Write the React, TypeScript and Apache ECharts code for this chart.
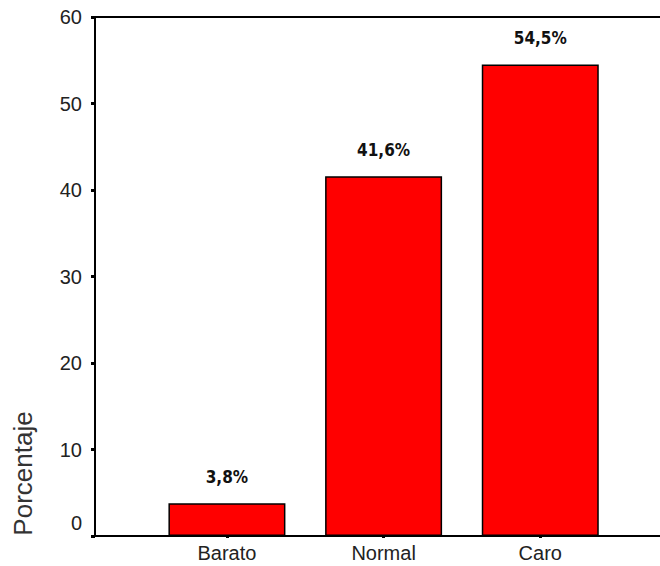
import React, { useEffect, useRef } from "react";
import * as echarts from "echarts";

const categories = ["Barato", "Normal", "Caro"];
const percentages = [3.8, 41.6, 54.5];
const yMin = 0;
const yMax = 60;
const yInterval = 10;
const yAxisTitle = "Porcentaje";

export default function App() {
  const ref = useRef<HTMLDivElement>(null);
  useEffect(() => {
    if (!ref.current) return;
    const chart = echarts.init(ref.current, null, { renderer: "svg" });
    const lineStyle = { color: "#000", width: 2 };
    chart.setOption({
      animation: false,
      backgroundColor: "#fff",
      grid: [
        { left: 95, right: 0, top: 17, bottom: 30 },
        { left: 148.6, width: 470, top: 17, bottom: 30 },
      ],
      xAxis: [
        {
          gridIndex: 0,
          type: "value",
          position: "bottom",
          min: 0,
          max: 1,
          axisLine: { show: true, lineStyle },
          axisTick: { show: false },
          axisLabel: { show: false },
          splitLine: { show: false },
        },
        {
          gridIndex: 0,
          type: "value",
          position: "top",
          min: 0,
          max: 1,
          axisLine: { show: true, lineStyle },
          axisTick: { show: false },
          axisLabel: { show: false },
          splitLine: { show: false },
        },
        {
          gridIndex: 1,
          type: "category",
          data: categories,
          position: "bottom",
          offset: 4,
          axisLine: { show: false },
          axisTick: {
            show: true,
            alignWithLabel: true,
            length: 2,
            lineStyle: { color: "#000", width: 3 },
          },
          axisLabel: {
            margin: 3,
            color: "#222",
            fontFamily: "Liberation Sans, Arial, sans-serif",
            fontSize: 20,
          },
          splitLine: { show: false },
        },
      ],
      yAxis: [
        {
          gridIndex: 0,
          type: "value",
          min: yMin,
          max: yMax,
          interval: yInterval,
          axisLine: { show: true, lineStyle },
          axisTick: {
            show: true,
            length: 4,
            lineStyle: { color: "#000", width: 3 },
          },
          axisLabel: {
            margin: 13,
            color: "#222",
            fontFamily: "Liberation Sans, Arial, sans-serif",
            fontSize: 20,
            formatter: (v: number) => (v === 0 ? "{z|0}" : String(v)),
            rich: {
              z: {
                color: "#222",
                fontFamily: "Liberation Sans, Arial, sans-serif",
                fontSize: 20,
                padding: [0, 0, 26, 0],
              },
            },
          },
          splitLine: { show: false },
        },
        {
          gridIndex: 1,
          type: "value",
          min: yMin,
          max: yMax,
          show: false,
        },
      ],
      series: [
        {
          type: "bar",
          xAxisIndex: 2,
          yAxisIndex: 1,
          data: percentages,
          barWidth: 117,
          itemStyle: { color: "#ff0000", borderColor: "#000", borderWidth: 1.5 },
          label: {
            show: true,
            position: "top",
            distance: 18,
            color: "#111",
            fontFamily: "DejaVu Sans Condensed, DejaVu Sans, sans-serif",
            fontWeight: "bold",
            fontSize: 17,
            formatter: (p: any) => p.value.toFixed(1).replace(".", ",") + "%",
          },
        },
      ],
      graphic: [
        {
          type: "text",
          x: 23,
          y: 473.5,
          rotation: Math.PI / 2,
          style: {
            text: yAxisTitle,
            fill: "#333",
            font: "26px Liberation Sans, Arial, sans-serif",
            textAlign: "center",
            textVerticalAlign: "middle",
          },
        },
      ],
    });
    return () => chart.dispose();
  }, []);
  return (
    <div
      ref={ref}
      style={{ position: "absolute", left: 0, top: 0, width: 660, height: 566 }}
    />
  );
}
